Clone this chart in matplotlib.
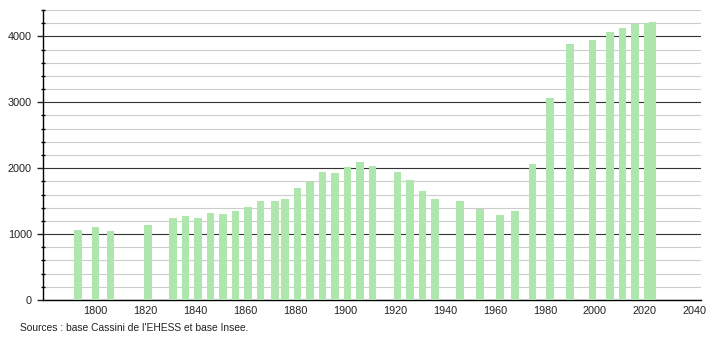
import matplotlib
matplotlib.use("Agg")
import matplotlib.pyplot as plt
from matplotlib.ticker import MultipleLocator

# années de recensement et population
annees = [1793, 1800, 1806, 1821, 1831, 1836, 1841, 1846, 1851, 1856,
          1861, 1866, 1872, 1876, 1881, 1886, 1891, 1896, 1901, 1906,
          1911, 1921, 1926, 1931, 1936, 1946, 1954, 1962, 1968, 1975,
          1982, 1990, 1999, 2006, 2011, 2016, 2021, 2023]
population = [1059, 1108, 1049, 1138, 1237, 1271, 1237, 1316, 1311, 1350,
              1405, 1509, 1509, 1535, 1700, 1788, 1944, 1929, 2024, 2095,
              2032, 1944, 1823, 1656, 1535, 1505, 1383, 1292, 1343, 2065,
              3060, 3888, 3944, 4065, 4126, 4190, 4200, 4212]
x_ticks = [1800, 1820, 1840, 1860, 1880, 1900, 1920, 1940, 1960, 1980, 2000, 2020, 2040]
y_ticks = [0, 1000, 2000, 3000, 4000]

plt.rcParams['font.family'] = ['Liberation Sans', 'DejaVu Sans']
plt.rcParams['font.size'] = 7.8

fig = plt.figure(figsize=(7.1, 3.4), dpi=100)
ax = fig.add_axes([43 / 710, 1 - 300 / 340, (701 - 43) / 710, 290 / 340])

ax.bar(annees, population, width=3, color="#aee6ae", zorder=3)

ax.set_xlim(1779, 2042.5)
ax.set_ylim(0, 4400)
ax.set_xticks(x_ticks)
ax.set_yticks(y_ticks)
ax.yaxis.set_minor_locator(MultipleLocator(200))

ax.grid(axis="y", which="minor", color="#cccccc", linewidth=0.8, zorder=1)
ax.grid(axis="y", which="major", color="#333333", linewidth=0.8, zorder=2)

for s in ["top", "right"]:
    ax.spines[s].set_visible(False)
ax.spines["left"].set_linewidth(1)
ax.spines["bottom"].set_linewidth(1)
ax.tick_params(axis="x", length=0, pad=4, colors="#222222")
ax.tick_params(axis="y", which="major", length=4, width=1, direction="out", pad=4, colors="#222222")
ax.tick_params(axis="y", which="minor", length=3, width=1, direction="inout")

fig.text(20 / 710, 1 - 328 / 340, "Sources : base Cassini de l'EHESS et base Insee.",
         fontsize=7.4, color="#222222", va="center")

fig.savefig("out.png", dpi=100)
